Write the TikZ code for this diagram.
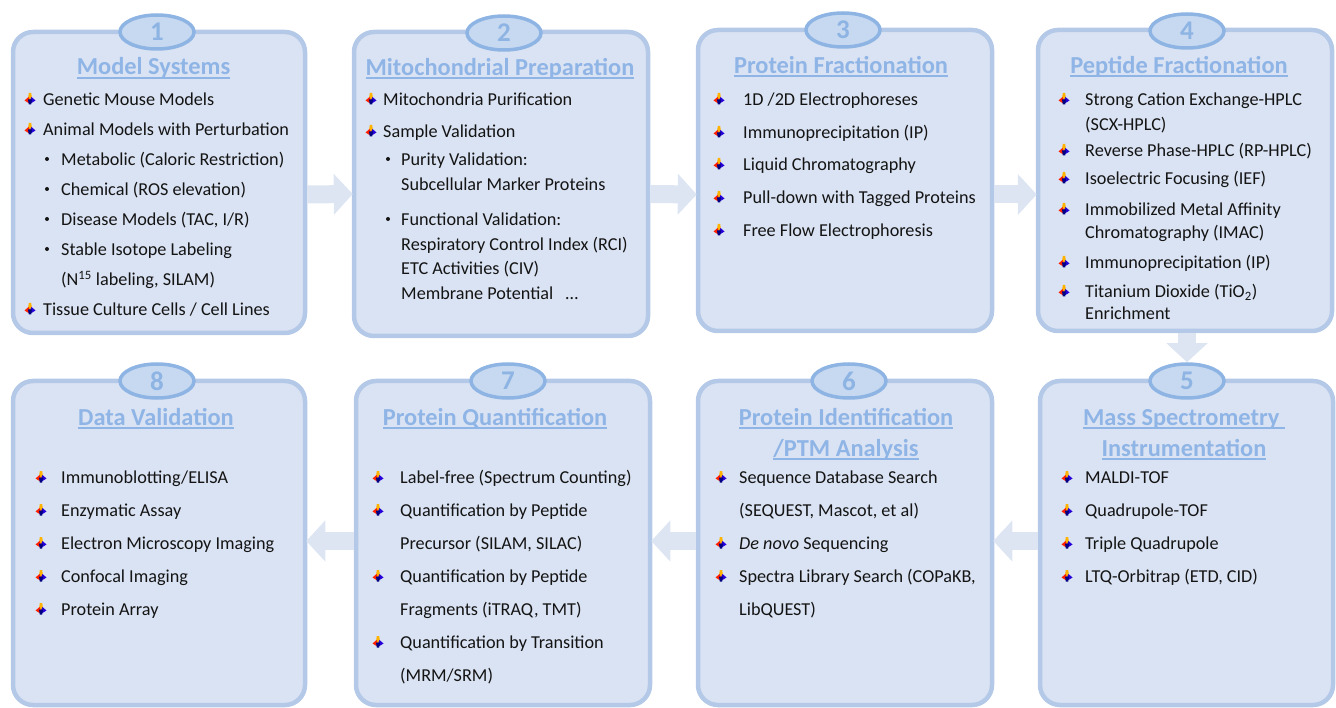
\documentclass[tikz,border=0pt]{standalone}
\usepackage{fontspec}
\setmainfont{Carlito}
\usetikzlibrary{arrows.meta,shapes.geometric,calc}
\definecolor{boxfill}{HTML}{DAE3F3}
\definecolor{boxline}{HTML}{B4C9E8}
\definecolor{ovalfill}{HTML}{C6D9F1}
\definecolor{ovalline}{HTML}{8EB4E3}
\definecolor{titlecol}{HTML}{8FB4E6}
\definecolor{arrowcol}{HTML}{DDE5F3}
\definecolor{txt}{HTML}{141414}
\tikzset{
  stagebox/.style={draw=boxline,fill=boxfill,line width=4.5pt,rounded corners=20pt,minimum width=#1,inner sep=0pt},
  numoval/.style={ellipse,draw=ovalline,fill=ovalfill,line width=3.5pt,minimum width=74pt,minimum height=34pt,inner sep=0pt,text=ovalline,font=\fontsize{27}{27}\selectfont\bfseries},
  headline/.style={text=titlecol,anchor=base,inner sep=0pt,font=\fontsize{24.4}{24.4}\selectfont\bfseries},
  itemtext/.style={text=txt,anchor=base west,inner sep=0pt,font=\fontsize{18.2}{18.2}\selectfont},
  flowarrow/.style={draw=arrowcol,line width=18pt,-{Triangle[width=40pt,length=19pt,color=arrowcol]}},
}
\newcommand{\ttl}[1]{\setbox0\hbox{#1}\rlap{\rule[-3.6pt]{\wd0}{1.7pt}}\box0}
\newcommand{\tbul}[2]{%
  \fill[orange!60!yellow] (#1-1.2,#2-6) -- (#1+1.2,#2-6) -- (#1+2.2,#2+1) -- (#1-2.2,#2+1) -- cycle;
  \fill[red!75!orange] (#1-5.5,#2+1.5) -- (#1-1.5,#2-2) -- (#1,#2+1.5) -- (#1-1.5,#2+4) -- cycle;
  \fill[blue!70!violet] (#1+5.5,#2+1.5) -- (#1+1.5,#2-2) -- (#1,#2+1.5) -- (#1+1.5,#2+4) -- cycle;
  \fill[blue!50!black] (#1-2,#2+0.5) -- (#1+2,#2+0.5) -- (#1+1.2,#2+5.5) -- (#1-1.2,#2+5.5) -- cycle;
}
\newcommand{\sbul}[2]{\fill[txt] (#1,#2) circle (2pt);}
\newcommand{\itm}[4]{\node[itemtext] (#1) at (#2,#3+6.5) {#4};}
\begin{document}
\begin{tikzpicture}[x=1pt,y=-1pt]
\useasboundingbox (0,0) rectangle (1336,708);
% boxes
\node[stagebox=292pt,minimum height=301pt] (b1) at (159,182.5) {};
\node[stagebox=294pt,minimum height=304pt] (b2) at (501,184) {};
\node[stagebox=294pt,minimum height=301pt] (b3) at (845,180.5) {};
\node[stagebox=294pt,minimum height=301pt] (b4) at (1185,180.5) {};
\node[stagebox=293pt,minimum height=324pt] (b5) at (1186.5,543) {};
\node[stagebox=294pt,minimum height=324pt] (b6) at (845,543) {};
\node[stagebox=294pt,minimum height=324pt] (b7) at (503,543) {};
\node[stagebox=292pt,minimum height=324pt] (b8) at (159,543) {};
% ovals
\node[numoval] (e1) at (157,32) {1};
\node[numoval] (e2) at (504,33) {2};
\node[numoval] (e3) at (843,30) {3};
\node[numoval] (e4) at (1187,31) {4};
\node[numoval] (e5) at (1187,381) {5};
\node[numoval] (e6) at (849,381) {6};
\node[numoval] (e7) at (508,381) {7};
\node[numoval] (e8) at (157,381) {8};
% arrows
\draw[flowarrow] ($(b1.east)+(0,12)$) -- ($(b2.west)+(1,10)$);
\draw[flowarrow] ($(b2.east)+(0,10)$) -- ($(b3.west)+(1,14)$);
\draw[flowarrow] ($(b3.east)+(0,14)$) -- ($(b4.west)+(1,14)$);
\draw[flowarrow] ($(b4.south)+(2,0)$) -- (e5.north);
\draw[flowarrow] ($(b5.west)+(0,-2)$) -- ($(b6.east)+(-1,-2)$);
\draw[flowarrow] ($(b6.west)+(0,-2)$) -- ($(b7.east)+(-1,-2)$);
\draw[flowarrow] ($(b7.west)+(0,-2)$) -- ($(b8.east)+(-1,-2)$);
% titles
\node[headline] (t1) at (153.5,75) {\ttl{Model Systems}};
\node[headline] (t2) at (500,75.5) {\ttl{Mitochondrial Preparation}};
\node[headline] (t3) at (841,73.5) {\ttl{Protein Fractionation}};
\node[headline] (t4) at (1179,73.5) {\ttl{Peptide Fractionation}};
\node[headline] (t5a) at (1184,425) {\ttl{Mass Spectrometry\ }};
\node[headline] (t5b) at (1184,456) {\ttl{Instrumentation}};
\node[headline] (t6a) at (846,425) {\ttl{Protein Identification}};
\node[headline] (t6b) at (846,456) {\ttl{/PTM Analysis}};
\node[headline] (t7) at (495,425) {\ttl{Protein Quantification}};
\node[headline] (t8) at (156,425) {\ttl{Data Validation}};
% box 1
\tbul{30}{99}\itm{a1}{43}{99}{Genetic Mouse Models}
\tbul{30}{129}\itm{a2}{43}{129}{Animal Models with Perturbation}
\sbul{47}{159}\itm{a3}{61}{159}{Metabolic (Caloric Restriction)}
\sbul{47}{189}\itm{a4}{61}{189}{Chemical (ROS elevation)}
\sbul{47}{219}\itm{a5}{61}{219}{Disease Models (TAC, I/R)}
\sbul{47}{249}\itm{a6}{61}{249}{Stable Isotope Labeling}
\itm{a7}{61}{279}{(N\textsuperscript{15} labeling, SILAM)}
\tbul{30}{309}\itm{a8}{43}{309}{Tissue Culture Cells / Cell Lines}
% box 2
\tbul{371}{99}\itm{c1}{383}{99}{Mitochondria Purification}
\tbul{371}{131}\itm{c2}{383}{131}{Sample Validation}
\sbul{388}{159}\itm{c3}{401}{159}{Purity Validation:}
\itm{c4}{401}{184}{Subcellular Marker Proteins}
\sbul{388}{219}\itm{c5}{401}{219}{Functional Validation:}
\itm{c6}{401}{244}{Respiratory Control Index (RCI)}
\itm{c7}{401}{268}{ETC Activities (CIV)}
\itm{c8}{401}{293}{Membrane Potential \ \ \ldots}
% box 3
\tbul{719}{99}\itm{d1}{743}{99}{1D /2D Electrophoreses}
\tbul{719}{132}\itm{d2}{743}{132}{Immunoprecipitation (IP)}
\tbul{719}{164}\itm{d3}{743}{164}{Liquid Chromatography}
\tbul{719}{197}\itm{d4}{743}{197}{Pull-down with Tagged Proteins}
\tbul{719}{230}\itm{d5}{743}{230}{Free Flow Electrophoresis}
% box 4
\tbul{1064}{99}\itm{f1}{1085}{99}{Strong Cation Exchange-HPLC}
\itm{f2}{1085}{124}{(SCX-HPLC)}
\tbul{1064}{150}\itm{f3}{1085}{150}{Reverse Phase-HPLC (RP-HPLC)}
\tbul{1064}{178}\itm{f4}{1085}{178}{Isoelectric Focusing (IEF)}
\tbul{1064}{209}\itm{f5}{1085}{209}{Immobilized Metal Affinity}
\itm{f6}{1085}{232}{Chromatography (IMAC)}
\tbul{1064}{262}\itm{f7}{1085}{262}{Immunoprecipitation (IP)}
\tbul{1064}{291}\itm{f8}{1085}{291}{Titanium Dioxide (TiO\textsubscript{2})}
\itm{f9}{1085}{313}{Enrichment}
% box 5
\tbul{1067}{477}\itm{g1}{1085}{477}{MALDI-TOF}
\tbul{1067}{510}\itm{g2}{1085}{510}{Quadrupole-TOF}
\tbul{1067}{543}\itm{g3}{1085}{543}{Triple Quadrupole}
\tbul{1067}{576}\itm{g4}{1085}{576}{LTQ-Orbitrap (ETD, CID)}
% box 6
\tbul{721}{477}\itm{h1}{739}{477}{Sequence Database Search}
\itm{h2}{739}{510}{(SEQUEST, Mascot, et al)}
\tbul{721}{543}\itm{h3}{739}{543}{\textit{De novo} Sequencing}
\tbul{721}{576}\itm{h4}{739}{576}{Spectra Library Search (COPaKB,}
\itm{h5}{739}{609}{LibQUEST)}
% box 7
\tbul{378}{477}\itm{i1}{400}{477}{Label-free (Spectrum Counting)}
\tbul{378}{510}\itm{i2}{400}{510}{Quantification by Peptide}
\itm{i3}{400}{543}{Precursor (SILAM, SILAC)}
\tbul{378}{576}\itm{i4}{400}{576}{Quantification by Peptide}
\itm{i5}{400}{609}{Fragments (iTRAQ, TMT)}
\tbul{378}{642}\itm{i6}{400}{642}{Quantification by Transition}
\itm{i7}{400}{675}{(MRM/SRM)}
% box 8
\tbul{41}{477}\itm{j1}{61}{477}{Immunoblotting/ELISA}
\tbul{41}{510}\itm{j2}{61}{510}{Enzymatic Assay}
\tbul{41}{543}\itm{j3}{61}{543}{Electron Microscopy Imaging}
\tbul{41}{576}\itm{j4}{61}{576}{Confocal Imaging}
\tbul{41}{609}\itm{j5}{61}{609}{Protein Array}
\end{tikzpicture}
\end{document}
